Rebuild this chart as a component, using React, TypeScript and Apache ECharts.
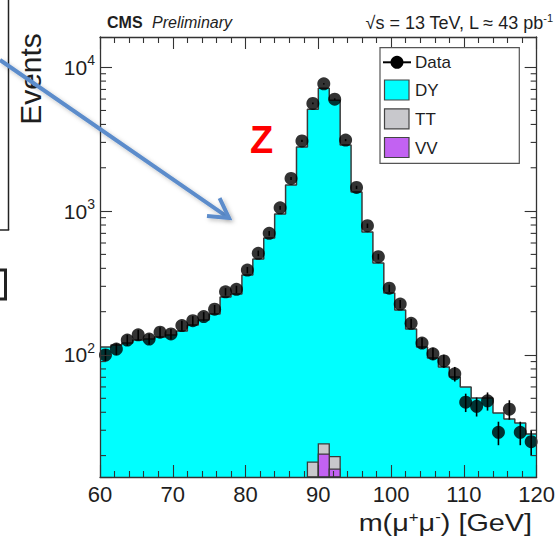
import { useEffect, useRef } from 'react';
import * as echarts from 'echarts';

// Dimuon invariant mass, 40 bins of 1.5 GeV from 60 to 120 GeV
const MASS_MIN = 60;
const MASS_MAX = 120;
const BIN_WIDTH = 1.5;

const dataCounts = [
  100, 110, 127, 138, 129, 144, 140, 160, 173, 185,
  208, 275, 286, 389, 509, 700, 1054, 1687, 3073, 5597,
  7656, 5995, 3113, 1461, 791, 482, 291, 226, 166, 121,
  102, 91, 74, 47, 44, 48, 29, 42, 29, 25,
];

const dyYield = [
  113.6, 117.3, 121.2, 127.1, 129.2, 133.4, 137.7, 146.8, 161.6, 175.1,
  192.6, 252.8, 265.3, 359.4, 464.2, 649.4, 953.3, 1516, 2783, 5091,
  7123, 5879, 2873, 1355, 714.8, 435.3, 269.6, 205.4, 151.6, 113.6,
  95.3, 82.5, 70.4, 60.0, 50.3, 50.3, 39.6, 35.9, 33.7, 28.3,
];

const ttYield = [
  0, 0, 0, 0, 0, 0, 0, 0, 0, 0,
  0, 0, 0, 0, 0, 0, 0, 0, 0, 18.0,
  3.6, 3.6, 0, 0, 0, 0, 0, 0, 0, 0,
  0, 0, 0, 0, 0, 0, 0, 0, 0, 0,
];

const vvYield = [
  0, 0, 0, 0, 0, 0, 0, 0, 0, 0,
  0, 0, 0, 0, 0, 0, 0, 0, 0, 0,
  20.5, 16.1, 0, 0, 0, 0, 0, 0, 0, 0,
  0, 0, 0, 0, 0, 0, 0, 0, 0, 0,
];

const Y_MIN = 14.2;
const Y_MAX = 16200;

const FONT = '"Liberation Sans", Arial, Helvetica, sans-serif';
const INK = '#1e1e1e';
const FRAME = '#333333';
const CYAN = '#00ffff';
const GREY = '#c8c8cc';
const PURPLE = '#c262f2';
const ARROW = '#5b8ccb';

export default function App() {
  const ref = useRef<HTMLDivElement>(null);

  useEffect(() => {
    if (!ref.current) return;
    const chart = echarts.init(ref.current, null, { renderer: 'svg' });

    const edges = dataCounts.map((_, i) => MASS_MIN + i * BIN_WIDTH);
    const centers = edges.map((e) => e + BIN_WIDTH / 2);
    const total = dyYield.map((v, i) => v + ttYield[i] + vvYield[i]);
    const ttPlusVv = ttYield.map((v, i) => v + vvYield[i]);

    // step outline of the full stack: one point per lower bin edge plus the closing edge
    const stepData = edges
      .map((e, i) => [e, total[i]])
      .concat([[MASS_MAX, total[total.length - 1]]]);

    const binRects = (vals: number[]) =>
      vals
        .map((v, i) => [edges[i], edges[i] + BIN_WIDTH, v])
        .filter((d) => d[2] > 0);

    const minorTicks: number[] = [];
    for (const decade of [10, 100, 1000]) {
      for (let k = 2; k <= 9; k++) {
        const v = k * decade;
        if (v > Y_MIN && v < Y_MAX) minorTicks.push(v);
      }
    }

    const histRect = (fill: string) => (params: any, api: any) => {
      const a = api.coord([api.value(0), api.value(2)]);
      const b = api.coord([api.value(1), api.value(2)]);
      const cs = params.coordSys;
      const bottom = cs.y + cs.height;
      return {
        type: 'rect',
        shape: { x: a[0], y: a[1], width: b[0] - a[0], height: bottom - a[1] },
        style: { fill, stroke: '#3a3a3a', lineWidth: 1.3 },
      };
    };

    const tickStyle = { color: FRAME, width: 1.1 };

    const xAxisBase = {
      type: 'value',
      min: MASS_MIN,
      max: MASS_MAX,
      interval: 10,
      z: 6,
      axisLine: { show: true, lineStyle: { color: FRAME, width: 1.3 } },
      axisTick: { show: true, inside: true, length: 12, lineStyle: tickStyle },
      minorTick: { show: true, splitNumber: 5, length: 6, lineStyle: tickStyle },
      splitLine: { show: false },
    };

    const decadeLabel = (v: number) => {
      const e = Math.round(Math.log10(v));
      if (Math.abs(Math.pow(10, e) - v) / v > 1e-6) return '';
      return `10{s|${e}}`;
    };

    const yAxisBase = {
      type: 'log',
      logBase: 10,
      min: Y_MIN,
      max: Y_MAX,
      z: 6,
      axisLine: { show: true, lineStyle: { color: FRAME, width: 1.3 } },
      axisTick: { show: true, inside: true, length: 12, lineStyle: tickStyle },
      minorTick: { show: false },
      splitLine: { show: false },
    };

    const legendTop = 47.7;

    chart.setOption({
      animation: false,
      backgroundColor: '#ffffff',
      grid: { left: 100, right: 21, top: 37, bottom: 71 },
      xAxis: [
        {
          ...xAxisBase,
          position: 'bottom',
          axisLabel: { fontSize: 22, color: INK, fontFamily: FONT, margin: 6 },
        },
        { ...xAxisBase, position: 'top', axisLabel: { show: false } },
      ],
      yAxis: [
        {
          ...yAxisBase,
          position: 'left',
          axisLabel: {
            fontSize: 21,
            color: INK,
            fontFamily: FONT,
            margin: 5,
            formatter: decadeLabel,
            rich: { s: { fontSize: 14, fontFamily: FONT, color: INK, padding: [0, 0, 14, 0] } },
          },
        },
        { ...yAxisBase, position: 'right', axisLabel: { show: false } },
      ],
      series: [
        {
          name: 'DY',
          type: 'line',
          step: 'end',
          data: stepData,
          showSymbol: false,
          symbol: 'none',
          lineStyle: { color: '#3a3a3a', width: 1.5 },
          areaStyle: { color: CYAN, opacity: 1, origin: 'start' },
          z: 2,
          silent: true,
        },
        {
          name: 'TT',
          type: 'custom',
          renderItem: histRect(GREY),
          data: binRects(ttPlusVv),
          encode: { x: [0, 1], y: 2 },
          z: 3,
          silent: true,
        },
        {
          name: 'VV',
          type: 'custom',
          renderItem: histRect(PURPLE),
          data: binRects(vvYield),
          encode: { x: [0, 1], y: 2 },
          z: 3,
          silent: true,
        },
        {
          name: 'Data errors',
          type: 'custom',
          renderItem: (_params: any, api: any) => {
            const lo = api.coord([api.value(0), api.value(1)]);
            const hi = api.coord([api.value(0), api.value(2)]);
            return {
              type: 'line',
              shape: { x1: lo[0], y1: lo[1], x2: hi[0], y2: hi[1] },
              style: { stroke: '#000', lineWidth: 1.6 },
            };
          },
          data: centers.map((c, i) => [c, dataCounts[i] - Math.sqrt(dataCounts[i]), dataCounts[i] + Math.sqrt(dataCounts[i])]),
          encode: { x: 0, y: [1, 2] },
          z: 4,
          silent: true,
        },
        {
          name: 'Data',
          type: 'scatter',
          data: centers.map((c, i) => [c, dataCounts[i]]),
          symbol: 'circle',
          symbolSize: 13,
          itemStyle: { color: '#000' },
          z: 5,
          silent: true,
        },
        {
          name: 'minor y ticks',
          type: 'custom',
          renderItem: (params: any, api: any) => {
            const p = api.coord([MASS_MIN, api.value(1)]);
            const cs = params.coordSys;
            const st = { stroke: FRAME, lineWidth: 1.1 };
            return {
              type: 'group',
              children: [
                { type: 'line', shape: { x1: cs.x, y1: p[1], x2: cs.x + 6, y2: p[1] }, style: st },
                { type: 'line', shape: { x1: cs.x + cs.width - 6, y1: p[1], x2: cs.x + cs.width, y2: p[1] }, style: st },
              ],
            };
          },
          data: minorTicks.map((v) => [MASS_MIN, v]),
          encode: { x: 0, y: 1 },
          z: 7,
          silent: true,
        },
      ],
      graphic: [
        // neighbouring slide content
        { type: 'line', shape: { x1: 8.5, y1: 0, x2: 8.5, y2: 230 }, style: { stroke: '#222', lineWidth: 1.5 }, z: 10 },
        { type: 'line', shape: { x1: 0, y1: 230, x2: 9.2, y2: 230 }, style: { stroke: '#222', lineWidth: 1.5 }, z: 10 },
        {
          type: 'polyline',
          shape: { points: [[0, 270], [5.5, 270], [5.5, 299], [0, 299]] },
          style: { stroke: '#222', lineWidth: 3, fill: null },
          z: 10,
        },
        {
          type: 'text',
          x: 30,
          y: 79,
          rotation: Math.PI / 2,
          style: { text: 'Events', fontSize: 30, fontFamily: FONT, fill: INK, align: 'center', verticalAlign: 'middle' },
          z: 10,
        },
        // header
        {
          type: 'text',
          x: 107,
          y: 22.5,
          style: { text: 'CMS', fontSize: 16, fontWeight: 'bold', fontFamily: FONT, fill: INK, align: 'left', verticalAlign: 'middle' },
          z: 10,
        },
        {
          type: 'text',
          x: 152,
          y: 22.5,
          style: { text: 'Preliminary', fontSize: 16, fontStyle: 'italic', fontFamily: FONT, fill: INK, align: 'left', verticalAlign: 'middle' },
          z: 10,
        },
        {
          type: 'text',
          x: 553,
          y: 22.7,
          style: {
            text: '√s = 13 TeV, L ≈ 43 pb{s|-1}',
            fontSize: 18,
            fontFamily: FONT,
            fill: INK,
            align: 'right',
            verticalAlign: 'middle',
            rich: { s: { fontSize: 11, fontFamily: FONT, fill: INK, padding: [0, 0, 9, 0] } },
          },
          z: 10,
        },
        // x axis title
        {
          type: 'text',
          x: 532,
          y: 523,
          scaleX: 1.2,
          style: {
            text: 'm(μ{s|+}μ{s|-}) [GeV]',
            fontSize: 24,
            fontFamily: FONT,
            fill: INK,
            align: 'right',
            verticalAlign: 'middle',
            rich: { s: { fontSize: 14, fontFamily: FONT, fill: INK, padding: [0, 0, 12, 0] } },
          },
          z: 10,
        },
        // legend
        {
          type: 'rect',
          shape: { x: 380, y: legendTop, width: 139.3, height: 115.6 },
          style: { fill: '#ffffff', stroke: '#555', lineWidth: 1.2 },
          z: 8,
        },
        { type: 'line', shape: { x1: 383, y1: 62.3, x2: 411, y2: 62.3 }, style: { stroke: '#000', lineWidth: 2 }, z: 9 },
        { type: 'circle', shape: { cx: 397, cy: 62.3, r: 6.5 }, style: { fill: '#000' }, z: 9 },
        { type: 'text', x: 415, y: 62.3, style: { text: 'Data', fontSize: 17, fontFamily: FONT, fill: INK, align: 'left', verticalAlign: 'middle' }, z: 9 },
        { type: 'rect', shape: { x: 384.5, y: 80, width: 24.5, height: 20 }, style: { fill: CYAN, stroke: '#444', lineWidth: 1.2 }, z: 9 },
        { type: 'text', x: 415, y: 90, style: { text: 'DY', fontSize: 17, fontFamily: FONT, fill: INK, align: 'left', verticalAlign: 'middle' }, z: 9 },
        { type: 'rect', shape: { x: 384.5, y: 108.8, width: 24.5, height: 20 }, style: { fill: GREY, stroke: '#444', lineWidth: 1.2 }, z: 9 },
        { type: 'text', x: 415, y: 119, style: { text: 'TT', fontSize: 17, fontFamily: FONT, fill: INK, align: 'left', verticalAlign: 'middle' }, z: 9 },
        { type: 'rect', shape: { x: 384.5, y: 137.5, width: 24.5, height: 20 }, style: { fill: PURPLE, stroke: '#444', lineWidth: 1.2 }, z: 9 },
        { type: 'text', x: 415, y: 148, style: { text: 'VV', fontSize: 17, fontFamily: FONT, fill: INK, align: 'left', verticalAlign: 'middle' }, z: 9 },
        // annotation: Z peak
        {
          type: 'text',
          x: 261.7,
          y: 140,
          style: { text: 'Z', fontSize: 38, fontWeight: 'bold', fontFamily: FONT, fill: '#ff0000', align: 'center', verticalAlign: 'middle' },
          z: 10,
        },
        {
          type: 'line',
          shape: { x1: 0, y1: 60, x2: 228, y2: 217.3 },
          style: {
            stroke: ARROW,
            lineWidth: 4,
            shadowBlur: 4,
            shadowOffsetX: 2,
            shadowOffsetY: 2,
            shadowColor: 'rgba(0,0,0,0.25)',
          },
          z: 11,
        },
        {
          type: 'polyline',
          shape: { points: [[219.6, 198.1], [229, 218], [207, 216]] },
          style: {
            stroke: ARROW,
            lineWidth: 4,
            fill: null,
            lineJoin: 'miter',
            shadowBlur: 4,
            shadowOffsetX: 2,
            shadowOffsetY: 2,
            shadowColor: 'rgba(0,0,0,0.25)',
          },
          z: 11,
        },
      ],
    });

    return () => chart.dispose();
  }, []);

  return (
    <div
      ref={ref}
      style={{ position: 'fixed', left: 0, top: 0, width: 558, height: 548, background: '#fff' }}
    />
  );
}
